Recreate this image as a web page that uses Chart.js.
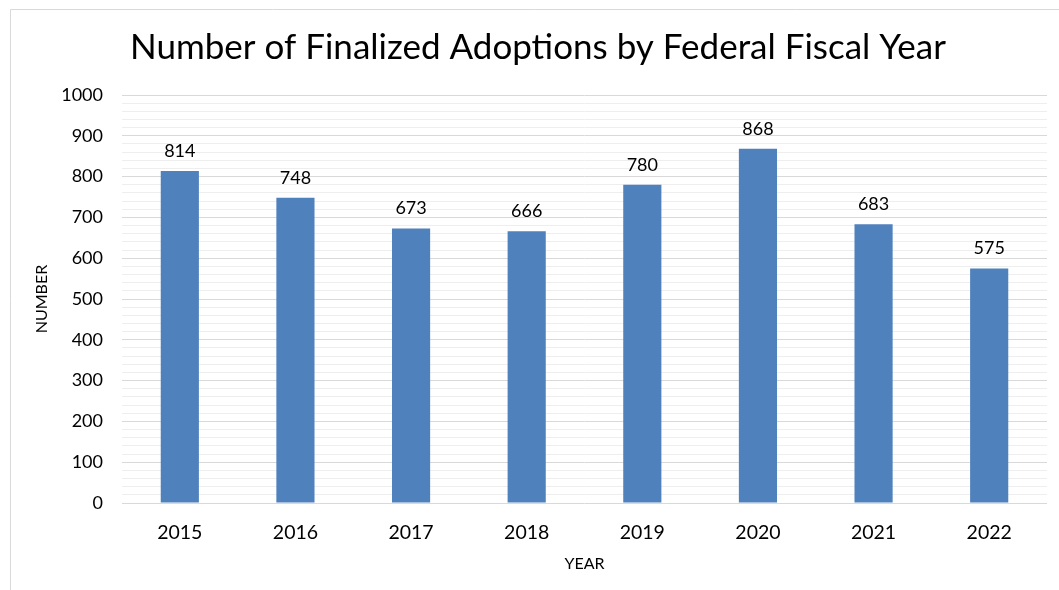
<!DOCTYPE html>
<html>
<head>
<meta charset="utf-8">
<script src="https://cdn.jsdelivr.net/npm/chart.js@4"></script>
<style>
html,body{margin:0;padding:0;background:#fff;}
#wrap{width:1059px;height:590px;position:relative;}
</style>
</head>
<body>
<div id="wrap"><canvas id="c" width="1059" height="590"></canvas></div>
<script>
const years = ['2015','2016','2017','2018','2019','2020','2021','2022'];
const adoptions = [814, 748, 673, 666, 780, 868, 683, 575];
const chartTitle = 'Number of Finalized Adoptions by Federal Fiscal Year';
const yTitle = 'NUMBER';
const xTitle = 'YEAR';

const FONT = 'Lato, "Open Sans", sans-serif';

const borderPlugin = {
  id: 'outerBorder',
  beforeDraw(chart) {
    const ctx = chart.ctx;
    ctx.save();
    ctx.strokeStyle = '#d9d9d9';
    ctx.lineWidth = 1;
    ctx.beginPath();
    ctx.moveTo(10.5, 590);
    ctx.lineTo(10.5, 9.5);
    ctx.lineTo(1059, 9.5);
    ctx.stroke();
    ctx.restore();
  }
};

const titlePlugin = {
  id: 'centeredTitle',
  afterDraw(chart) {
    const ctx = chart.ctx;
    ctx.save();
    ctx.font = '35px ' + FONT;
    ctx.fillStyle = '#000';
    ctx.textAlign = 'center';
    ctx.textBaseline = 'middle';
    ctx.fillText(chartTitle, 538, 48);
    ctx.restore();
  }
};

const labelPlugin = {
  id: 'barLabels',
  afterDatasetsDraw(chart) {
    const ctx = chart.ctx;
    const meta = chart.getDatasetMeta(0);
    ctx.save();
    ctx.font = '18px ' + FONT;
    ctx.fillStyle = '#000';
    ctx.textAlign = 'center';
    ctx.textBaseline = 'middle';
    meta.data.forEach((bar, i) => {
      ctx.fillText(String(adoptions[i]), bar.x, bar.y - 20);
    });
    ctx.restore();
  }
};

new Chart(document.getElementById('c'), {
  type: 'bar',
  data: {
    labels: years,
    datasets: [{
      data: adoptions,
      backgroundColor: '#4f81bd',
      borderWidth: 0,
      categoryPercentage: 1,
      barPercentage: 0.33
    }]
  },
  options: {
    responsive: false,
    animation: false,
    devicePixelRatio: 1,
    layout: { padding: { left: 0, right: 12, top: 95, bottom: 0 } },
    plugins: {
      legend: { display: false },
      tooltip: { enabled: false },
      title: { display: false }
    },
    scales: {
      x: {
        grid: { display: false, drawTicks: false },
        border: { display: false },
        ticks: { color: '#000', font: { family: FONT, size: 19.5 }, padding: 18 },
        title: { display: true, text: xTitle, color: '#000', font: { family: FONT, size: 16 }, padding: { top: 0, bottom: 17 } },
        afterFit(scale) { scale.height = 87; }
      },
      y: {
        min: 0,
        max: 1000,
        grid: {
          drawTicks: false,
          color: (ctx) => (ctx.tick && ctx.tick.value % 100 === 0) ? '#d9d9d9' : '#eeeeee',
          lineWidth: 1
        },
        border: { display: false },
        ticks: {
          stepSize: 20,
          autoSkip: false,
          color: '#000',
          font: { family: FONT, size: 18 },
          padding: 19,
          callback: (v) => (v % 100 === 0 ? String(v) : '')
        },
        title: { display: true, text: yTitle, color: '#000', font: { family: FONT, size: 16 }, padding: { top: 32, bottom: 0 } },
        afterFit(scale) { scale.width = 122; }
      }
    }
  },
  plugins: [borderPlugin, labelPlugin, titlePlugin]
});
</script>
</body>
</html>
